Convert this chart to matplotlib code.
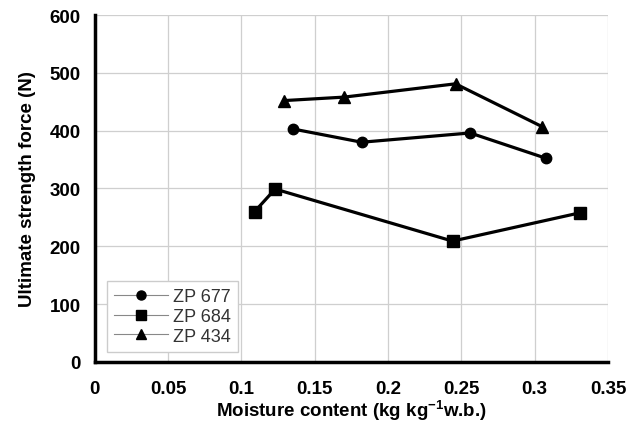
import matplotlib
matplotlib.use("Agg")
import matplotlib.pyplot as plt
from matplotlib.lines import Line2D

plt.rcParams['font.family'] = ['Liberation Sans', 'DejaVu Sans']
plt.rcParams['mathtext.fontset'] = 'custom'
plt.rcParams['mathtext.rm'] = 'Liberation Sans'
plt.rcParams['mathtext.bf'] = 'Liberation Sans:bold'

# ZP 677
mc_677 = [0.135, 0.182, 0.256, 0.308]
force_677 = [403, 380, 396, 352]
# ZP 684
mc_684 = [0.109, 0.123, 0.244, 0.331]
force_684 = [260, 299, 209, 258]
# ZP 434
mc_434 = [0.129, 0.170, 0.246, 0.305]
force_434 = [452, 458, 481, 407]

xticks = [0, 0.05, 0.1, 0.15, 0.2, 0.25, 0.3, 0.35]
xtick_labels = ['0', '0.05', '0.1', '0.15', '0.2', '0.25', '0.3', '0.35']
yticks = [0, 100, 200, 300, 400, 500, 600]

fig = plt.figure(figsize=(6.36, 4.27), dpi=100)
ax = fig.add_axes([0.149, 0.150, 0.807, 0.8125])

ax.plot(mc_677, force_677, color='black', lw=2.3, marker='o', ms=7.5, zorder=3)
ax.plot(mc_684, force_684, color='black', lw=2.3, marker='s', ms=8, zorder=3)
ax.plot(mc_434, force_434, color='black', lw=2.3, marker='^', ms=9, zorder=3)

ax.set_xlim(0, 0.35)
ax.set_ylim(0, 600)
ax.set_xticks(xticks)
ax.set_xticklabels(xtick_labels)
ax.set_yticks(yticks)
ax.grid(True, color='#cfcfcf', lw=0.9)
ax.set_axisbelow(True)

for s in ['top', 'right']:
    ax.spines[s].set_visible(False)
for s in ['left', 'bottom']:
    ax.spines[s].set_linewidth(2.5)
    ax.spines[s].set_color('black')

ax.tick_params(length=0, labelsize=13.5)
ax.tick_params(axis='x', pad=13)
ax.tick_params(axis='y', pad=10)
for lab in ax.get_xticklabels() + ax.get_yticklabels():
    lab.set_fontweight('bold')

ax.set_xlabel(r'Moisture content (kg kg$^{\mathbf{-1}}$w.b.)', fontsize=13.5,
              fontweight='bold', labelpad=0)
ax.set_ylabel('Ultimate strength force (N)', fontsize=13.5, fontweight='bold',
              labelpad=10)

handles = [
    Line2D([], [], color='#888888', lw=0.8, marker='o', ms=6.5,
           mfc='black', mec='black'),
    Line2D([], [], color='#888888', lw=0.8, marker='s', ms=6.5,
           mfc='black', mec='black'),
    Line2D([], [], color='#888888', lw=0.8, marker='^', ms=7.5,
           mfc='black', mec='black'),
]
leg = ax.legend(handles, ['ZP 677', 'ZP 684', 'ZP 434'], loc='lower left',
                bbox_to_anchor=(0.023, 0.029), borderaxespad=0, fontsize=13,
                handlelength=3.0, handletextpad=0.3, labelspacing=0.15,
                fancybox=False, framealpha=1, edgecolor='#cccccc',
                borderpad=0.4)
for t in leg.get_texts():
    t.set_color('#333333')

fig.savefig('out.png', dpi=100)
